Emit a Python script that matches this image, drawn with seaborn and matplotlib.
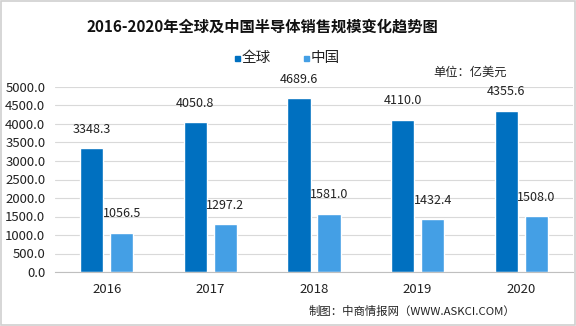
import matplotlib
matplotlib.use("Agg")
import matplotlib.pyplot as plt
import seaborn as sns
import pandas as pd
from matplotlib.patches import Rectangle

years = ["2016", "2017", "2018", "2019", "2020"]
global_vals = [3348.3, 4050.8, 4689.6, 4110.0, 4355.6]
china_vals = [1056.5, 1297.2, 1581.0, 1432.4, 1508.0]
series = ["全球", "中国"]
colors = ["#0070C0", "#449FE5"]

df = pd.DataFrame({
    "year": years * 2,
    "value": global_vals + china_vals,
    "series": [series[0]] * len(years) + [series[1]] * len(years),
})

sns.set_theme(style="white")
plt.rcParams["font.family"] = ["Noto Sans CJK SC", "DejaVu Sans"]

fig = plt.figure(figsize=(5.76, 3.26), dpi=100)
ax = fig.add_axes([55 / 576, 1 - 272 / 326, 518 / 576, 185 / 326])

sns.barplot(data=df, x="year", y="value", hue="series", palette=colors,
            width=0.58, gap=0.23, ax=ax, legend=False, saturation=1)

ax.set_ylim(0, 5000)
ax.set_yticks(range(0, 5001, 500))
ax.set_yticklabels([f"{v:.1f}" for v in range(0, 5001, 500)], fontsize=9.5, color="#222222")
ax.tick_params(axis="x", labelsize=9.5, colors="#222222", length=0, pad=8)
ax.tick_params(axis="y", length=0, pad=7)
ax.set_xlabel("")
ax.set_ylabel("")
ax.grid(axis="y", color="#D9D9D9", linewidth=0.8)
ax.set_axisbelow(True)
for s in ["top", "right", "left"]:
    ax.spines[s].set_visible(False)
ax.spines["bottom"].set_color("#BFBFBF")
ax.spines["bottom"].set_linewidth(0.8)

for cont in ax.containers:
    ax.bar_label(cont, labels=[f"{b.get_height():.1f}" for b in cont], padding=9,
                 fontsize=9, color="#222222")

fig.text(262 / 576, 1 - 27 / 326, "2016-2020年全球及中国半导体销售规模变化趋势图",
         ha="center", va="center", fontsize=11, fontweight="bold", color="#111111")

# legend
fig.patches.append(Rectangle((235 / 576, 1 - 61 / 326), 5 / 576, 5 / 326,
                             transform=fig.transFigure, color=colors[0]))
fig.text(242 / 576, 1 - 58 / 326, series[0], ha="left", va="center", fontsize=10.5, color="#222222")
fig.patches.append(Rectangle((304 / 576, 1 - 61 / 326), 5 / 576, 5 / 326,
                             transform=fig.transFigure, color=colors[1]))
fig.text(311 / 576, 1 - 58 / 326, series[1], ha="left", va="center", fontsize=10.5, color="#222222")

fig.text(507 / 576, 1 - 72 / 326, "单位：亿美元", ha="right", va="center", fontsize=8.8, color="#222222")
fig.text(515 / 576, 1 - 311 / 326, "制图：中商情报网（WWW.ASKCI.COM）", ha="right", va="center",
         fontsize=8.2, color="#222222")

fig.patches.append(Rectangle((0.001, 0.002), 0.997, 0.995, transform=fig.transFigure,
                             fill=False, edgecolor="#D0D0D0", linewidth=1.2))

fig.savefig("out.png", dpi=100)
